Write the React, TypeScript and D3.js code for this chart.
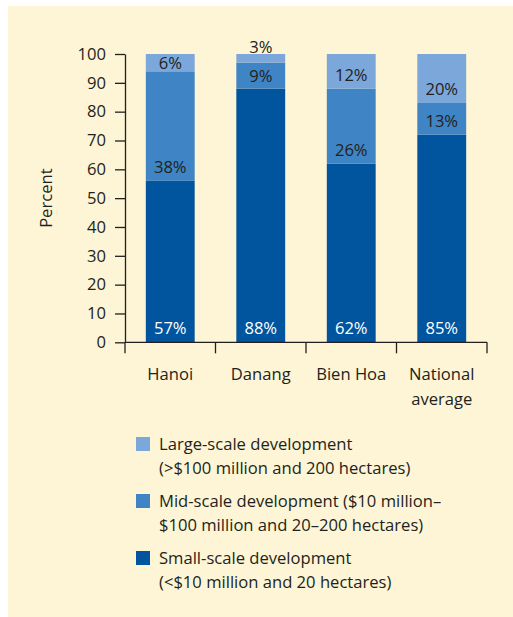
import { useEffect, useRef } from 'react';
import * as d3 from 'd3';

// Chart data
const categories = ['Hanoi', 'Danang', 'Bien Hoa', 'National average'];
const categoryLines = [['Hanoi'], ['Danang'], ['Bien Hoa'], ['National', 'average']];
const seriesKeys = ['small', 'mid', 'large'];
const smallValues = [56, 88, 62, 72];
const midValues = [38, 9, 26, 11];
const largeValues = [6, 3, 12, 17];
const smallLabels = ['57%', '88%', '62%', '85%'];
const midLabels = ['38%', '9%', '26%', '13%'];
const largeLabels = ['6%', '3%', '12%', '20%'];
const yTicks = [0, 10, 20, 30, 40, 50, 60, 70, 80, 90, 100];
const legendLines = [
  ['Large-scale development', '(>$100 million and 200 hectares)'],
  ['Mid-scale development ($10 million\u2013', '$100 million and 20\u2013200 hectares)'],
  ['Small-scale development', '(<$10 million and 20 hectares)'],
];

const colors: Record<string, string> = {
  small: '#00559e',
  mid: '#3f84c5',
  large: '#7ca7da',
};
const ink = '#231f20';
const font = '"Open Sans", "Noto Sans", sans-serif';
const fontSize = 16.6;

export default function App() {
  const svgRef = useRef<SVGSVGElement>(null);

  useEffect(() => {
    if (!svgRef.current) return;
    const svg = d3.select(svgRef.current);
    svg.selectAll('*').remove();

    const width = 513;
    const height = 617;
    svg.attr('width', width).attr('height', height);

    // background panel
    svg.append('rect')
      .attr('x', 8).attr('y', 6)
      .attr('width', width - 8).attr('height', height - 6)
      .attr('fill', '#fdf5d5');

    const table = categories.map((c, i) => ({
      category: c,
      small: smallValues[i],
      mid: midValues[i],
      large: largeValues[i],
    }));
    const labels: Record<string, string[]> = { small: smallLabels, mid: midLabels, large: largeLabels };

    const x = d3.scaleBand<string>()
      .domain(categories)
      .range([125, 487])
      .paddingInner(0.46)
      .paddingOuter(0.23);
    const y = d3.scaleLinear().domain([0, 100]).range([342.3, 54]);

    const stacked = d3.stack<any>().keys(seriesKeys)(table);

    // bars
    stacked.forEach(layer => {
      svg.append('g')
        .selectAll('rect')
        .data(layer)
        .join('rect')
        .attr('x', d => x(d.data.category)!)
        .attr('width', x.bandwidth())
        .attr('y', d => y(d[1]))
        .attr('height', d => y(d[0]) - y(d[1]))
        .attr('fill', colors[layer.key]);
    });

    // segment labels
    stacked.forEach(layer => {
      layer.forEach((d, i) => {
        const top = y(d[1]);
        const bottom = y(d[0]);
        const h = bottom - top;
        let ly: number;
        if (layer.key === 'small' || h >= 28) ly = bottom - 14;
        else if (h >= 14) ly = (top + bottom) / 2;
        else ly = y(100) - 7;
        svg.append('text')
          .attr('x', x(d.data.category)! + x.bandwidth() / 2)
          .attr('y', ly)
          .attr('dy', '0.36em')
          .attr('text-anchor', 'middle')
          .attr('font-family', font)
          .attr('font-size', fontSize)
          .attr('fill', layer.key === 'small' ? '#ffffff' : ink)
          .text(labels[layer.key][i]);
      });
    });

    // y axis
    const yAxis = svg.append('g')
      .attr('transform', 'translate(125,0)')
      .call(d3.axisLeft(y).tickValues(yTicks).tickSize(10).tickSizeOuter(0).tickPadding(9));
    yAxis.select('.domain').attr('stroke', ink).attr('stroke-width', 1.3);
    yAxis.selectAll('.tick line').attr('stroke', ink).attr('stroke-width', 1.3);
    yAxis.selectAll('.tick text')
      .attr('fill', ink)
      .attr('font-family', font)
      .attr('font-size', fontSize);

    // x axis
    const xAxisY = y(0);
    svg.append('line')
      .attr('x1', x.range()[0]).attr('x2', x.range()[1])
      .attr('y1', xAxisY).attr('y2', xAxisY)
      .attr('stroke', ink).attr('stroke-width', 1.3);
    d3.range(categories.length + 1).forEach(i => {
      const tx = x.range()[0] + i * x.step();
      svg.append('line')
        .attr('x1', tx).attr('x2', tx)
        .attr('y1', xAxisY).attr('y2', xAxisY + 11)
        .attr('stroke', ink).attr('stroke-width', 1.3);
    });
    categories.forEach((c, i) => {
      const t = svg.append('text')
        .attr('x', x(c)! + x.bandwidth() / 2)
        .attr('y', 380)
        .attr('text-anchor', 'middle')
        .attr('font-family', font)
        .attr('font-size', fontSize)
        .attr('fill', ink);
      categoryLines[i].forEach((line, j) => {
        t.append('tspan')
          .attr('x', x(c)! + x.bandwidth() / 2)
          .attr('dy', j === 0 ? 0 : 25)
          .text(line);
      });
    });

    // y axis title
    svg.append('text')
      .attr('transform', `translate(46.5,${(y(0) + y(100)) / 2}) rotate(-90)`)
      .attr('dy', '0.36em')
      .attr('text-anchor', 'middle')
      .attr('font-family', font)
      .attr('font-size', fontSize)
      .attr('fill', ink)
      .text('Percent');

    // legend
    legendLines.forEach((lines, i) => {
      const cy = 444 + i * 57;
      svg.append('rect')
        .attr('x', 136).attr('y', cy - 7)
        .attr('width', 14).attr('height', 14)
        .attr('fill', colors[seriesKeys[seriesKeys.length - 1 - i]]);
      lines.forEach((line, j) => {
        svg.append('text')
          .attr('x', 159)
          .attr('y', cy + j * 24.5)
          .attr('dy', '0.36em')
          .attr('font-family', font)
          .attr('font-size', fontSize)
          .attr('fill', ink)
          .text(line);
      });
    });
  }, []);

  return (
    <svg ref={svgRef} style={{ position: 'absolute', left: 0, top: 0, display: 'block' }}></svg>
  );
}
